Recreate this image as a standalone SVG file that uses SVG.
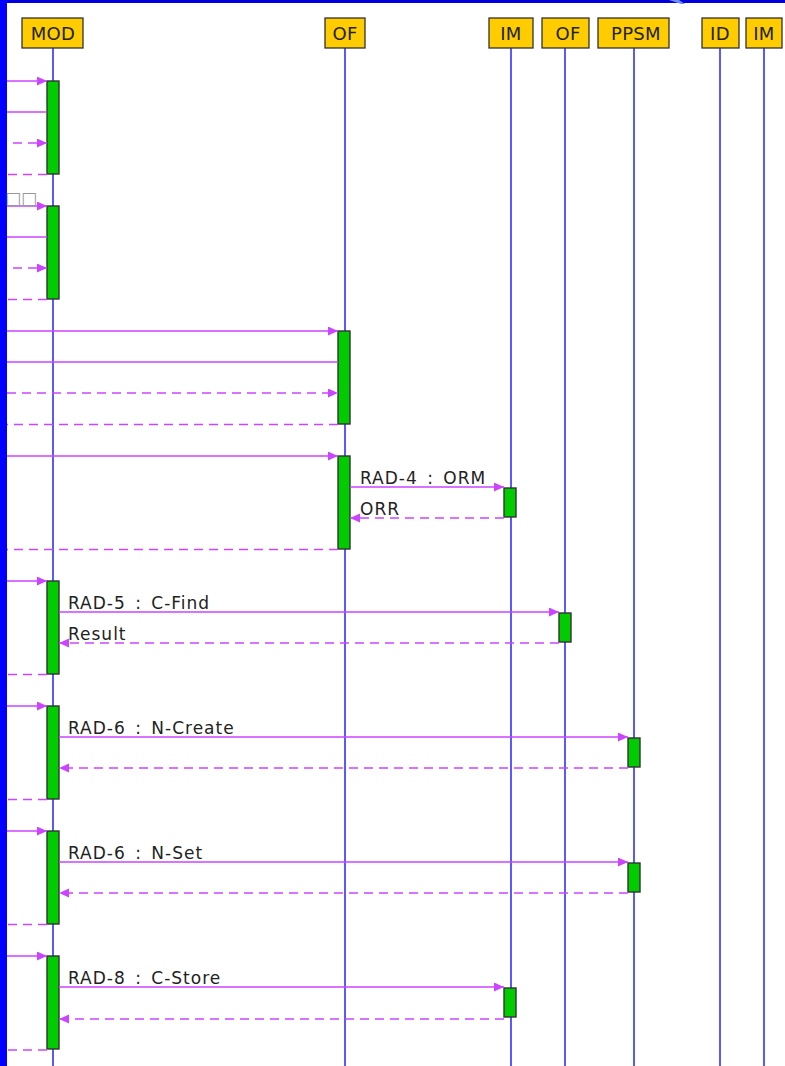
<svg xmlns="http://www.w3.org/2000/svg" width="785" height="1066" viewBox="0 0 785 1066">
<style>
.hdr{fill:#ffcc00;stroke:#333;stroke-width:1.3}
.hdrt{font-family:"DejaVu Sans",sans-serif;font-size:18px;fill:#222;text-anchor:middle;letter-spacing:0.3px}
.life{stroke:#3030ff;stroke-width:1.6;fill:none}
.act{fill:#00cc00;stroke:#333;stroke-width:1.4}
.msg{stroke:#cc44ff;stroke-width:1.4;fill:none}
.ret{stroke:#cc44ff;stroke-width:1.4;fill:none;stroke-dasharray:9 6}
.arr{marker-end:url(#ah)}
.lbl{font-family:"DejaVu Sans",sans-serif;font-size:17px;fill:#222;letter-spacing:1px;word-spacing:3px}
.tofu{font-family:"DejaVu Sans",sans-serif;font-size:17px;fill:#999}
</style>
<defs>
<marker id="ah" markerUnits="userSpaceOnUse" markerWidth="11" markerHeight="10" refX="10" refY="4.5" orient="auto">
<path d="M0,0 L10,4.5 L0,9 Z" fill="#cc44ff"/>
</marker>
</defs>
<rect x="0" y="0" width="785" height="1066" fill="#ffffff"/>
<rect x="0" y="0" width="785" height="3" fill="#0000dd"/>
<polygon points="669,0 679,0 685,4 681,4" fill="#6f8cff"/>
<rect x="0" y="0" width="7" height="1066" fill="#0000ff"/>

<g id="lifelines">
<g id="p-mod"><line class="life" x1="53" y1="48" x2="53" y2="1066"/><rect class="hdr" x="22" y="18" width="61" height="30"/><text class="hdrt" x="53" y="40">MOD</text></g>
<g id="p-of"><line class="life" x1="345" y1="48" x2="345" y2="1066"/><rect class="hdr" x="325" y="18" width="40" height="30"/><text class="hdrt" x="345" y="40">OF</text></g>
<g id="p-im"><line class="life" x1="511" y1="48" x2="511" y2="1066"/><rect class="hdr" x="489" y="18" width="44" height="30"/><text class="hdrt" x="511" y="40">IM</text></g>
<g id="p-of2"><line class="life" x1="565" y1="48" x2="565" y2="1066"/><rect class="hdr" x="542" y="18" width="47" height="30"/><text class="hdrt" x="568" y="40">OF</text></g>
<g id="p-ppsm"><line class="life" x1="634" y1="48" x2="634" y2="1066"/><rect class="hdr" x="598" y="18" width="71" height="30"/><text class="hdrt" x="636" y="40">PPSM</text></g>
<g id="p-id"><line class="life" x1="720" y1="48" x2="720" y2="1066"/><rect class="hdr" x="702" y="18" width="37" height="30"/><text class="hdrt" x="720" y="40">ID</text></g>
<g id="p-im2"><line class="life" x1="764" y1="48" x2="764" y2="1066"/><rect class="hdr" x="746" y="18" width="36" height="30"/><text class="hdrt" x="764" y="40">IM</text></g>
</g>

<g id="activations">
<rect class="act" x="47" y="81" width="12" height="93"/>
<rect class="act" x="47" y="206" width="12" height="93"/>
<rect class="act" x="338" y="331" width="12" height="93"/>
<rect class="act" x="338" y="456" width="12" height="93"/>
<rect class="act" x="504" y="488" width="12" height="29"/>
<rect class="act" x="47" y="581" width="12" height="93"/>
<rect class="act" x="559" y="613" width="12" height="29"/>
<rect class="act" x="47" y="706" width="12" height="93"/>
<rect class="act" x="628" y="738" width="12" height="29"/>
<rect class="act" x="47" y="831" width="12" height="93"/>
<rect class="act" x="628" y="863" width="12" height="29"/>
<rect class="act" x="47" y="956" width="12" height="93"/>
<rect class="act" x="504" y="988" width="12" height="29"/>
</g>

<g id="connectors">
<line class="msg arr" x1="7" y1="81" x2="47" y2="81"/>
<line class="msg" x1="47" y1="112" x2="7" y2="112"/>
<line class="ret arr" x1="13" y1="143" x2="47" y2="143"/>
<line class="ret" x1="47" y1="174.5" x2="7" y2="174.5"/>

<line class="msg arr" x1="7" y1="206" x2="47" y2="206"/>
<line class="msg" x1="47" y1="237" x2="7" y2="237"/>
<line class="ret arr" x1="13" y1="268" x2="47" y2="268"/>
<line class="ret" x1="47" y1="299.5" x2="7" y2="299.5"/>

<line class="msg arr" x1="7" y1="331" x2="338" y2="331"/>
<line class="msg" x1="338" y1="362" x2="7" y2="362"/>
<line class="ret arr" x1="7" y1="393" x2="338" y2="393"/>
<line class="ret" x1="338" y1="424.5" x2="7" y2="424.5"/>

<line class="msg arr" x1="7" y1="456" x2="338" y2="456"/>
<line class="msg arr" x1="350" y1="487" x2="504" y2="487"/>
<line class="ret arr" x1="504" y1="518" x2="350" y2="518"/>
<line class="ret" x1="338" y1="549.5" x2="7" y2="549.5"/>

<line class="msg arr" x1="7" y1="581" x2="47" y2="581"/>
<line class="msg arr" x1="59" y1="612" x2="559" y2="612"/>
<line class="ret arr" x1="559" y1="643" x2="59" y2="643"/>
<line class="ret" x1="47" y1="674.5" x2="7" y2="674.5"/>

<line class="msg arr" x1="7" y1="706" x2="47" y2="706"/>
<line class="msg arr" x1="59" y1="737" x2="628" y2="737"/>
<line class="ret arr" x1="628" y1="768" x2="59" y2="768"/>
<line class="ret" x1="47" y1="799.5" x2="7" y2="799.5"/>

<line class="msg arr" x1="7" y1="831" x2="47" y2="831"/>
<line class="msg arr" x1="59" y1="862" x2="628" y2="862"/>
<line class="ret arr" x1="628" y1="893" x2="59" y2="893"/>
<line class="ret" x1="47" y1="924.5" x2="7" y2="924.5"/>

<line class="msg arr" x1="7" y1="956" x2="47" y2="956"/>
<line class="msg arr" x1="59" y1="987" x2="504" y2="987"/>
<line class="ret arr" x1="504" y1="1019" x2="59" y2="1019"/>
<line class="ret" x1="47" y1="1050" x2="7" y2="1050"/>
</g>

<g id="labels">
<text class="tofu" x="5" y="204">□□</text>
<text class="lbl" x="360" y="484">RAD-4 : ORM</text>
<text class="lbl" x="360" y="515">ORR</text>
<text class="lbl" x="68" y="609">RAD-5 : C-Find</text>
<text class="lbl" x="68" y="640">Result</text>
<text class="lbl" x="68" y="734">RAD-6 : N-Create</text>
<text class="lbl" x="68" y="859">RAD-6 : N-Set</text>
<text class="lbl" x="68" y="984">RAD-8 : C-Store</text>
</g>
</svg>
